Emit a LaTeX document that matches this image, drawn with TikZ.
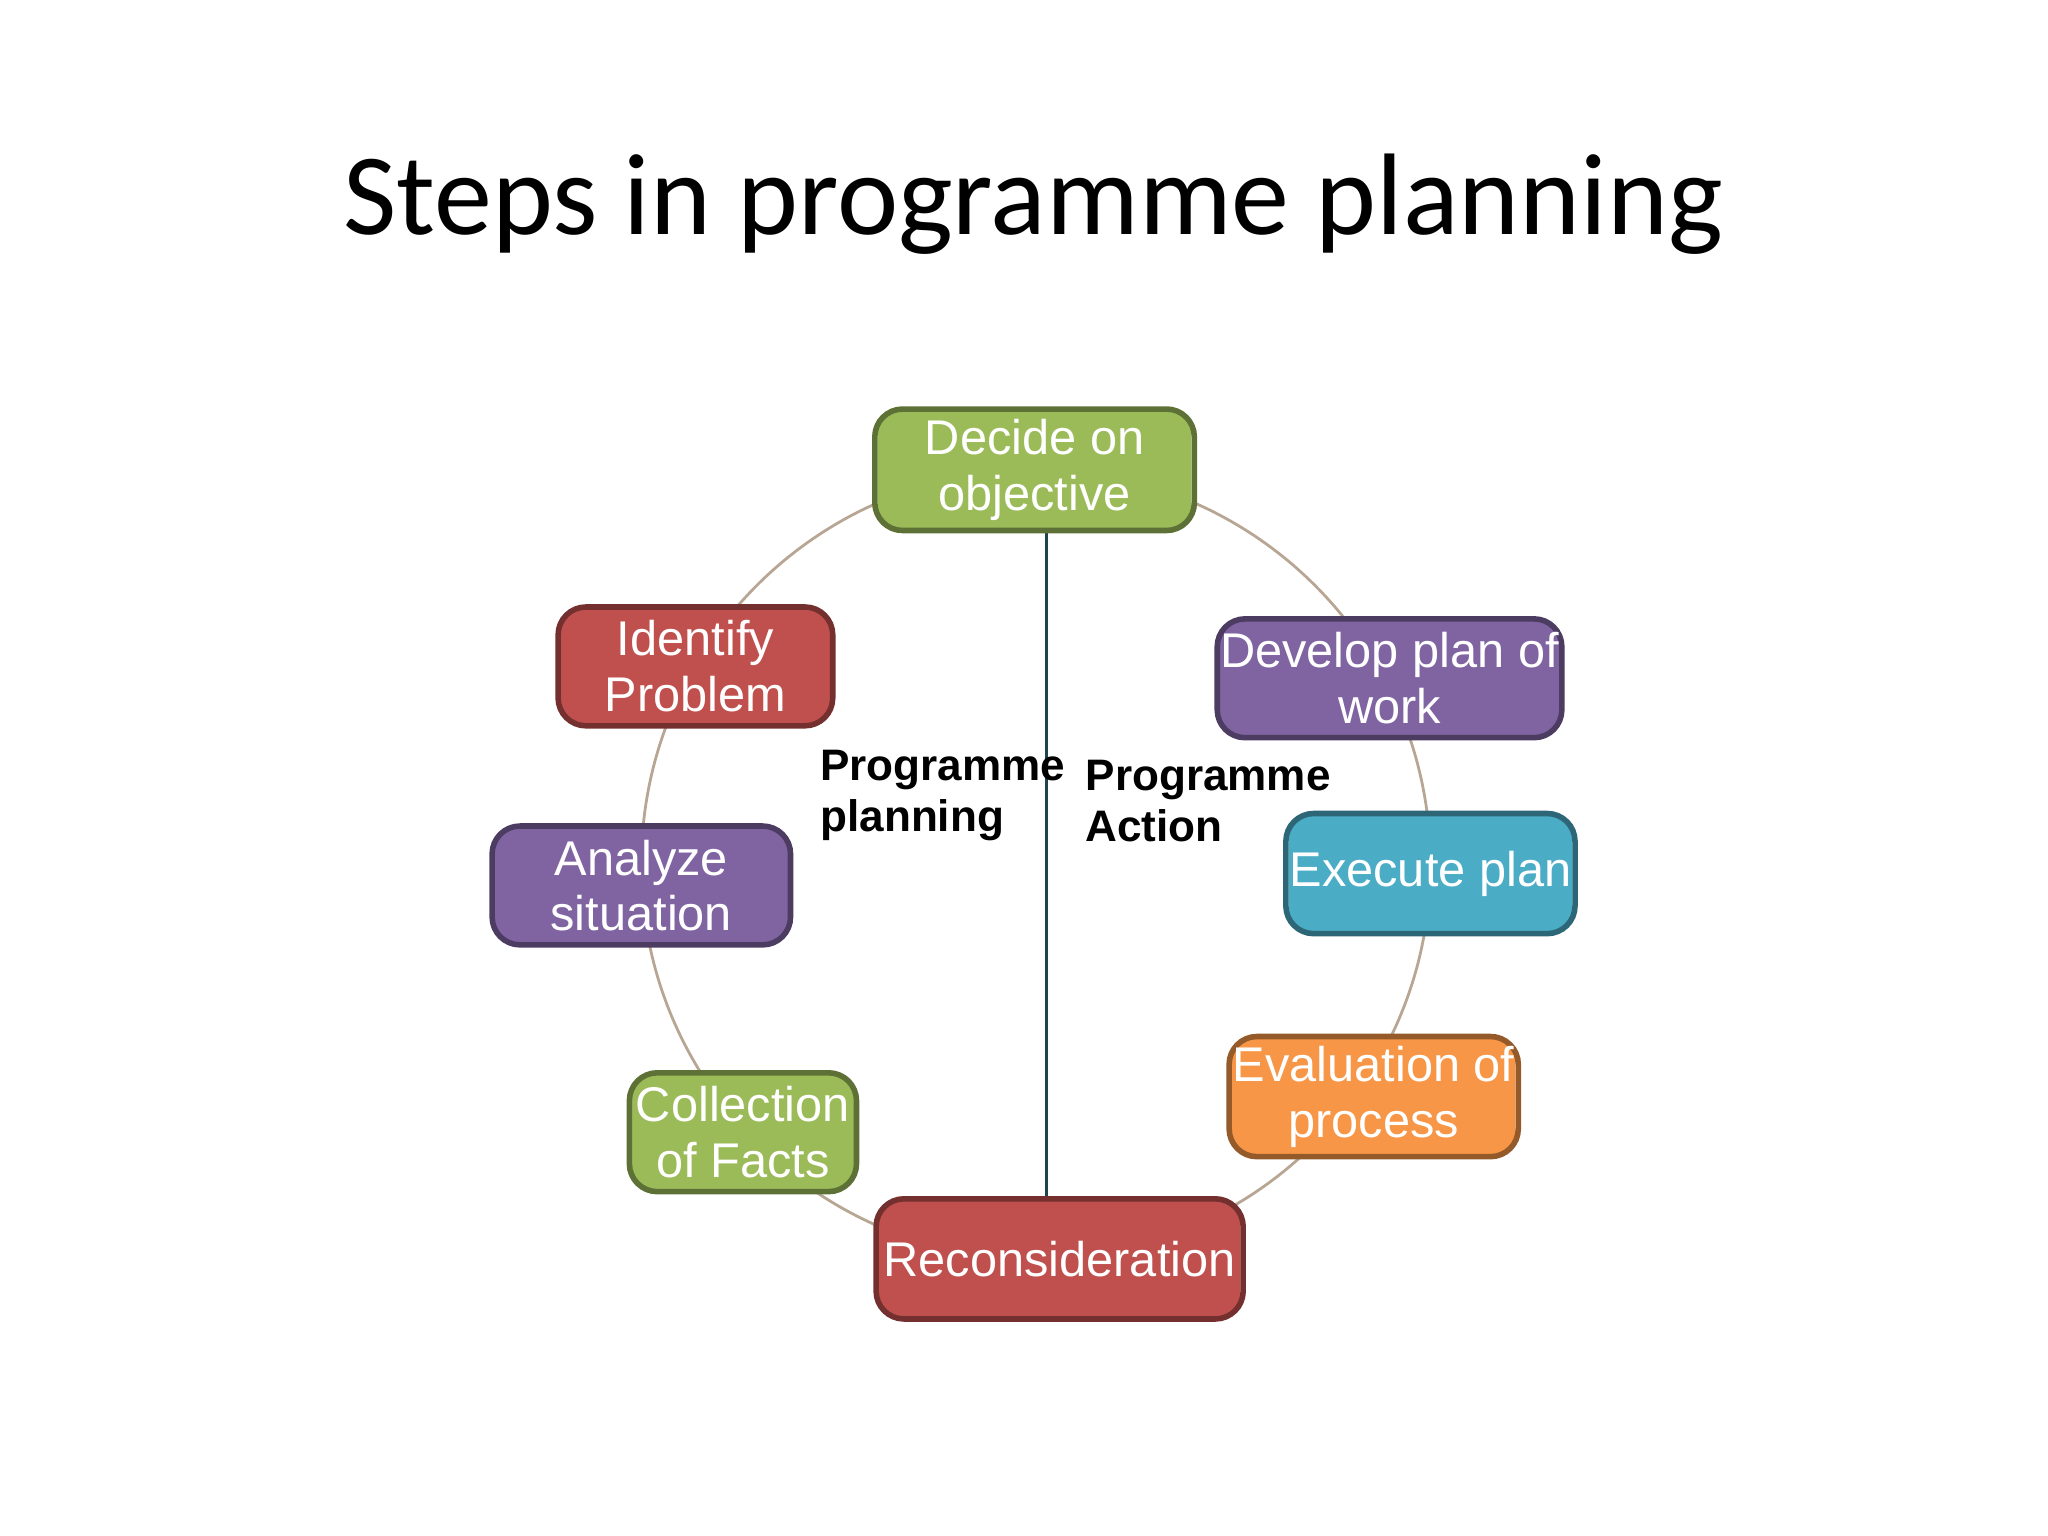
\documentclass[tikz,border=0pt]{standalone}
\usepackage{fontspec}
\setmainfont{Liberation Sans}
\newfontfamily\titlefont{Carlito}
\usetikzlibrary{calc}
\definecolor{cgreen}{HTML}{9BBB59}
\definecolor{cred}{HTML}{C0504D}
\definecolor{cpurple}{HTML}{8064A2}
\definecolor{cblue}{HTML}{4BACC6}
\definecolor{corange}{HTML}{F79646}
\tikzset{
 box/.style={rounded corners=6pt, fill=#1, draw=#1!60!black, line width=1.2pt,
   text=white, font=\fontsize{10.5}{12}\selectfont, align=center, inner sep=0pt,
   path picture={
     \draw[white!60!#1, line width=1.2pt] ($(path picture bounding box.north west)+(0.09,-0.12)$) -- ($(path picture bounding box.south west)+(0.09,0.12)$);
     \draw[white!60!#1, line width=1.2pt] ($(path picture bounding box.north east)+(-0.09,-0.12)$) -- ($(path picture bounding box.south east)+(-0.09,0.12)$);
   }},
 lbl/.style={font=\bfseries\fontsize{9.5}{11}\selectfont, align=left, anchor=north west, inner sep=0pt}
}
\begin{document}
\begin{tikzpicture}[x=0.01cm,y=-0.01cm]
\useasboundingbox (0,0) rectangle (1552,1164);
\node[font=\titlefont\fontsize{25}{30}\selectfont] (title) at (783,155) {Steps in programme planning};
\draw[line width=0.6pt, draw=brown!40!gray!70] (785,655) circle[radius=299];
\coordinate (vt) at (793,402);
\coordinate (vb) at (793,909);
\draw[line width=0.8pt, draw=cblue!40!black] (vt) -- (vb);
\node[box=cgreen, minimum width=242\pgflinewidth*0+2.42cm, minimum height=0.92cm] (d) at (784,356) {Decide on\\objective};
\node[box=cred, minimum width=2.08cm, minimum height=0.90cm] (i) at (527,505) {Identify\\Problem};
\node[box=cpurple, minimum width=2.26cm, minimum height=0.90cm] (a) at (486,671) {Analyze\\situation};
\node[box=cgreen, minimum width=1.72cm, minimum height=0.90cm] (c) at (563,858) {Collection\\of Facts};
\node[box=cred, minimum width=2.78cm, minimum height=0.91cm] (r) at (803,954) {Reconsideration};
\node[box=corange, minimum width=2.19cm, minimum height=0.91cm] (e) at (1041,831) {Evaluation of\\process};
\node[box=cblue, minimum width=2.19cm, minimum height=0.91cm] (x) at (1084,662) {Execute plan};
\node[box=cpurple, minimum width=2.61cm, minimum height=0.90cm] (p) at (1053,514) {Develop plan of\\work};
\node[lbl] (l1) at (621,568) {Programme\\planning};
\node[lbl] (l2) at (822,575) {Programme\\Action};
\end{tikzpicture}
\end{document}
